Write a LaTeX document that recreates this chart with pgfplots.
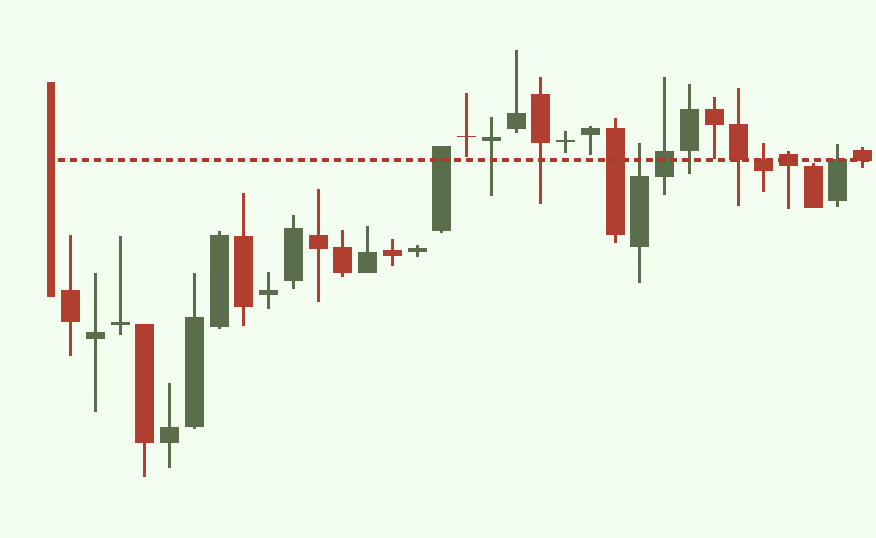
\documentclass[border=0pt]{standalone}
\usepackage{pgfplots}
\usepackage{pgfplotstable}
\pgfplotsset{compat=1.18}
\definecolor{bg}{HTML}{F3FDF0}
\definecolor{cred}{HTML}{B13F30}
\definecolor{cgreen}{HTML}{5A6E4B}
\definecolor{cdash}{HTML}{A83A2C}
% columns: index, body top, body bottom, high, low
\pgfplotstableread{
x  top    bot    hi     lo
0  456    241.3  456    241.3
1  248    216.3  303    182.3
4  214    94.7   214    61.3
8  302    231.3  344.7  212.3
11 303.3  289    349    236.3
12 291.3  265.3  308    261.3
14 288    282.3  299    272.3
17 402.3  401.7  445.3  381.3
20 443.7  395.3  461.3  333.7
23 409.7  302.7  419.7  294.7
27 429    413.3  441.3  378.7
28 414    378    449.7  332
29 378.7  367.3  394.7  345.7
30 383.7  372.3  387    328.7
31 372    329.7  374.7  329.7
33 388    376.7  390.7  369.7
}\redtab
\pgfplotstableread{
x  top    bot    hi     lo
2  206.3  198.7  265.3  126.3
3  216    212.7  302    202.7
5  111.3  94.7   154.7  69.7
6  221.3  110.7  265.3  109
7  303    210.7  307    209
9  248    243.3  265.7  228.7
10 309.7  257.3  323    249.3
13 286    265.3  312    265.3
15 290    285.7  292.7  281.3
16 392    307.3  392    304.7
18 401.3  396.7  421.3  342.3
19 425.3  409.3  488    404.7
21 398    396    407.3  385.3
22 410    403.3  412    383
24 362    290.7  395.3  254.7
25 387.3  361.3  461.3  343.3
26 429    386.7  454    363.7
32 378.7  337.3  394    331.3
}\greentab
\begin{document}
\begin{tikzpicture}
\fill[bg] (-47bp,0) rectangle (829bp,538bp);
\begin{axis}[
  scale only axis, width=829bp, height=538bp,
  xmin=0.0424, xmax=33.537, ymin=0, ymax=538,
  axis line style={draw=none}, ticks=none,
  axis background/.style={fill=bg},
]
% wicks
\addplot[draw=none, mark=none, forget plot,
  error bars/.cd, y dir=minus, y explicit, error mark=none,
  error bar style={draw=cred, line width=3bp}]
  table[x=x, y=hi, y error minus expr=\thisrow{hi}-\thisrow{lo}] {\redtab};
\addplot[draw=none, mark=none, forget plot,
  error bars/.cd, y dir=minus, y explicit, error mark=none,
  error bar style={draw=cgreen, line width=3bp}]
  table[x=x, y=hi, y error minus expr=\thisrow{hi}-\thisrow{lo}] {\greentab};
% bodies
\addplot[draw=none, mark=none, forget plot,
  error bars/.cd, y dir=minus, y explicit, error mark=none,
  error bar style={draw=cred, line width=19bp}]
  table[x=x, y=top, y error minus expr=\thisrow{top}-\thisrow{bot}] {\redtab};
\addplot[draw=none, mark=none, forget plot,
  error bars/.cd, y dir=minus, y explicit, error mark=none,
  error bar style={draw=cgreen, line width=19bp}]
  table[x=x, y=top, y error minus expr=\thisrow{top}-\thisrow{bot}] {\greentab};
% reference line
\addplot[cdash, line width=3.2bp, dash pattern=on 7bp off 5bp, mark=none]
  coordinates {(0.487,378) (33.4,378)};
\end{axis}
\end{tikzpicture}
\end{document}
